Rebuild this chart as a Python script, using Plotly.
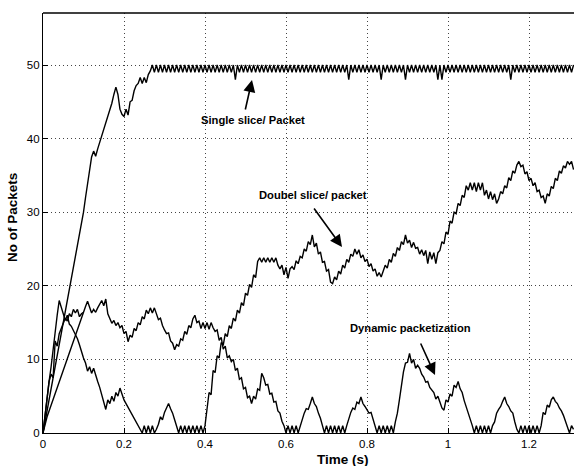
import numpy as np
import plotly.graph_objects as go

# Sampling instants (s): one sample every 5 ms, 0 .. 1.31 s
time_s = np.round(np.arange(263) * 0.005, 3)

single_slice = [
    0, 1.5, 3, 4.5, 6, 7.5, 9, 10.5, 12, 13.5, 15, 16.5, 18, 19.5, 21, 22.5, 24, 25.5, 27, 28.5,
    30, 32, 34, 36, 37.5, 38.3, 37.6, 38.6, 39.5, 40.3, 41.2, 42, 43, 43.8, 44.8, 46, 47, 46, 44, 43.3,
    43, 44, 43.2, 45, 45.2, 46.5, 47.2, 47.5, 48.3, 47.5, 48.3, 47.6, 48.7, 49.2, 50, 49, 50, 49, 50, 49,
    50, 49, 50, 49, 50, 49, 50, 49, 50, 49, 50, 49, 50, 49, 50, 49, 50, 49, 50, 49,
    50, 49, 50, 49, 50, 49, 50, 49, 50, 49, 50, 49, 50, 49, 50, 48, 50, 49, 50, 49,
    50, 49, 50, 49, 50, 49, 50, 49, 50, 49, 50, 49, 50, 49, 50, 49, 50, 49, 50, 49,
    50, 49, 50, 49, 50, 49, 50, 49, 50, 49, 50, 49, 50, 49, 50, 49, 50, 49, 50, 49,
    50, 49, 50, 49, 50, 49, 50, 49, 50, 49, 50, 48, 50, 49, 50, 49, 50, 49, 50, 49,
    50, 49, 50, 49, 50, 49, 50, 48, 50, 49, 50, 49, 50, 49, 50, 49, 50, 49, 50, 48,
    50, 49, 50, 49, 50, 49, 50, 49, 50, 49, 50, 49, 50, 49, 50, 48, 50, 48, 50, 49,
    50, 49, 50, 49, 50, 49, 50, 49, 50, 49, 50, 49, 50, 49, 50, 49, 50, 49, 50, 49,
    50, 49, 50, 49, 50, 49, 50, 49, 50, 49, 50, 48, 50, 49, 50, 49, 50, 49, 50, 49,
    50, 49, 50, 49, 50, 49, 50, 49, 50, 49, 50, 49, 50, 49, 50, 49, 50, 49, 50, 49,
    50, 49, 50,
]

double_slice = [
    0, 2.5, 4.5, 7, 9, 11.5, 13.5, 16, 18, 17, 16, 15.3, 16, 14.8, 14.5, 14, 13.4, 12.8, 12, 11,
    10.2, 9.5, 8.4, 9, 8.1, 8.8, 7.8, 7, 6.2, 5.3, 4.3, 3.2, 4.5, 4, 5, 4.3, 5.5, 5, 6.1, 5.2,
    4.5, 4, 3.5, 2.8, 2.3, 1.8, 1.3, 0.8, 0.3, 0, 1, 0, 1, 0, 1, 0, 0.5, 1.2, 2.2, 1.8,
    2.8, 3.5, 4, 3.3, 2.7, 1.8, 1, 0, 1, 0, 1, 0, 1, 0, 1, 0, 1, 0, 1, 0,
    1, 3.5, 5.5, 5.2, 8.5, 8.2, 10.5, 10.2, 12.3, 11.9, 13.5, 13.1, 14.6, 14.2, 15.6, 15.2, 16.7, 16.3, 17.7, 17.3,
    19, 18.7, 20.2, 19.8, 21.5, 21.1, 23.3, 23.8, 23.2, 23.8, 23.2, 23.8, 23.2, 23.8, 23.2, 23.8, 22.8, 22.3, 22.8, 21.5,
    22.5, 21, 22.3, 22.6, 22.2, 23.4, 23, 24, 23.8, 25, 24.7, 26, 25.6, 26.9, 25.3, 25.8, 24.3, 24.6, 23.2, 23.3,
    22, 22.2, 20.5, 20.3, 21.2, 20.8, 22, 21.6, 22.8, 22.4, 23.6, 23.2, 24.3, 24, 25, 24.3, 24.9, 23.8, 24.2, 23.3,
    23.6, 22.6, 23, 22, 22.3, 21.3, 21.8, 21.2, 21.9, 22.8, 22.4, 23.6, 23.2, 24.4, 24, 25.2, 24.8, 26, 25.6, 26.9,
    25.8, 26.2, 25.2, 25.9, 25.1, 25.2, 24.3, 24.9, 24.1, 24.8, 23, 24.6, 23.6, 24.5, 23, 24.5, 24.8, 26, 25.7, 27.3,
    27, 28.8, 28.5, 30, 29.8, 31.2, 30.9, 32.3, 32, 33.6, 33, 34, 33, 34, 32.8, 34, 33, 34, 32.3, 33,
    31.8, 32.8, 31.7, 32.5, 31.2, 31.8, 32.8, 32.5, 33.6, 33.3, 34.7, 34.3, 35.6, 35.3, 36.4, 36.9, 36.2, 36.4, 35.2, 35.5,
    34.3, 34.6, 33.6, 34, 32.8, 33, 32, 32.2, 31.2, 32.5, 32.2, 33.5, 33.2, 34.6, 34.3, 35.6, 35.3, 36.3, 36, 36.9,
    36.5, 36.9, 35.8,
]

dynamic_pkt = [
    0, 1.3, 2.2, 3, 3.8, 4.5, 5.2, 6, 6.8, 7.6, 8.4, 9.2, 10, 10.8, 11.6, 12.4, 13.2, 14, 14.8, 15.6,
    16.4, 17.2, 17.9, 17, 16.3, 16.8, 16.4, 17, 17.5, 18, 17.3, 18.2, 16.2, 15.5, 14.9, 15.3, 14.6, 15, 14.3, 14.6,
    13.5, 13.8, 12.4, 13.3, 13, 14.2, 13.9, 15, 14.7, 15.8, 15.5, 16.7, 16.2, 17, 16.3, 17, 16.3, 15.4, 15.6, 14.6,
    14, 13.5, 13.6, 12.5, 12.2, 11.3, 12, 11.8, 12.8, 12.6, 13.8, 13.4, 14.6, 14.3, 15.5, 16, 15, 15.2, 14.2, 15,
    14.2, 15, 14.1, 15, 14.3, 13.8, 14, 12.6, 13, 11.4, 11.8, 10.2, 10.5, 9.7, 10, 8.5, 8.8, 7.3, 7.5, 6,
    6.2, 4.8, 5, 4, 5, 4.6, 6, 5.8, 8.1, 7.5, 6.5, 6.6, 5.3, 5.4, 4.2, 4.3, 3, 2.7, 1.6, 1,
    0, 1, 0, 1, 0, 1, 0, 1, 2, 2.7, 3.3, 3.2, 4, 4.9, 4, 3.6, 2.7, 2, 1, 0,
    1, 0, 1, 0, 1, 0, 1, 0, 1, 0, 1, 2, 2.8, 3.4, 3.2, 4.2, 4, 4.9, 4, 3.6,
    3.2, 2.7, 2.8, 1.8, 1, 0, 1, 0, 1, 0, 1, 0, 1, 0, 1.5, 2.7, 4.5, 6.5, 8.3, 9.5,
    9.6, 10.8, 9.5, 10, 8.8, 9.2, 8.8, 8, 7.6, 6.9, 7, 6.2, 5.8, 5.5, 4.6, 5, 4.2, 3.4, 3.1, 4.5,
    4.2, 5.3, 5, 6.5, 6.2, 7, 6, 5.5, 4.4, 3.6, 2.7, 2, 1, 0, 1, 0, 1, 0, 1, 0,
    1, 0, 1, 1.5, 2.7, 3.2, 3.6, 4.3, 4.9, 4, 3.6, 3, 2.7, 1.5, 0.5, 0, 1, 0, 1, 0,
    1, 0, 1, 0, 1, 0, 1, 2.8, 2.5, 3.8, 3.5, 4.5, 4.9, 4.3, 4, 3.4, 3, 2.4, 1.5, 0.7,
    0, 1, 0.5,
]

# Short early ramp that merges into the dynamic band around 0.1 s
early_ramp = [0, 2.5, 4.5, 7, 8, 7.5, 12.5, 11.8, 13.5, 14.2, 15, 15.6, 15.2, 16.2, 15.8,
              16.8, 16.3, 16.8, 15.8, 16.2, 16.4]

x_ticks = [0, 0.2, 0.4, 0.6, 0.8, 1.0, 1.2]
x_tick_labels = ["0", "0.2", "0.4", "0.6", "0.8", "1", "1.2"]
y_ticks = [0, 10, 20, 30, 40, 50]
y_tick_labels = ["0", "10", "20", "30", "40", "50"]

W, H = 574, 466
L, R, T, B = 43, 0, 13, 33
PW, PH = W - L - R, H - T - B
X_MAX = PW / 405.0
Y_MAX = PH / 7.36


def px(xp):
    return (xp - L) / PW


def py(yp):
    return (H - B - yp) / PH


fig = go.Figure()
line = dict(color="black", width=1.4)
fig.add_trace(go.Scatter(x=time_s, y=single_slice, mode="lines", line=line, name="Single slice/ Packet"))
fig.add_trace(go.Scatter(x=time_s, y=double_slice, mode="lines", line=line, name="Doubel slice/ packet"))
fig.add_trace(go.Scatter(x=time_s, y=dynamic_pkt, mode="lines", line=line, name="Dynamic packetization"))
fig.add_trace(go.Scatter(x=time_s[:len(early_ramp)], y=early_ramp, mode="lines", line=line, name="ramp"))

axis_common = dict(
    showline=True, linecolor="black", linewidth=1.3,
    ticks="inside", ticklen=5, tickcolor="black", tickwidth=1,
    showgrid=True, gridcolor="#444", griddash="1px,3px", gridwidth=1,
    zeroline=False,
    tickfont=dict(family="Liberation Sans, Arial", size=11.5, color="black"),
)

fig.update_layout(
    width=W, height=H,
    margin=dict(l=L, r=R, t=T, b=B),
    paper_bgcolor="white", plot_bgcolor="white",
    showlegend=False,
    xaxis=dict(range=[0, X_MAX], tickvals=x_ticks, ticktext=x_tick_labels, **axis_common),
    yaxis=dict(range=[0, Y_MAX], tickvals=y_ticks, ticktext=y_tick_labels, **axis_common),
)

# top border of the axes box
fig.add_shape(type="line", xref="paper", yref="paper", x0=0, x1=1, y0=1, y1=1,
              line=dict(color="black", width=1.3))

bold = dict(family="Liberation Sans, Arial", size=11.2, color="black")
lab = dict(family="Liberation Sans, Arial", size=13.5, color="black")

# Axis labels
fig.add_annotation(text="<b>Time (s)</b>", xref="paper", yref="paper", x=px(343), y=py(459),
                   showarrow=False, font=lab, xanchor="center", yanchor="middle")
fig.add_annotation(text="<b>No of Packets</b>", xref="paper", yref="paper", x=px(12), y=py(218),
                   showarrow=False, font=lab, textangle=-90, xanchor="center", yanchor="middle")

# Text labels
fig.add_annotation(text="<b>Single slice/ Packet</b>", xref="paper", yref="paper", x=px(199), y=py(120),
                   showarrow=False, font=bold, xanchor="left", yanchor="middle")
fig.add_annotation(text="<b>Doubel slice/ packet</b>", xref="paper", yref="paper", x=px(257), y=py(195),
                   showarrow=False, font=bold, xanchor="left", yanchor="middle")
fig.add_annotation(text="<b>Dynamic packetization</b>", xref="paper", yref="paper", x=px(348), y=py(328),
                   showarrow=False, font=bold, xanchor="left", yanchor="middle")

# Arrows (head position, tail offset in pixels)
arrows = [((252, 80), (-7, 31)), ((342, 247), (-29, -40)), ((435, 375), (-15, -33))]
for (hx, hy), (dx, dy) in arrows:
    fig.add_annotation(text="", xref="paper", yref="paper", x=px(hx), y=py(hy),
                       ax=dx, ay=dy, showarrow=True, arrowhead=2, arrowsize=1.5,
                       arrowwidth=1.6, arrowcolor="black")

fig.write_html("out.html")
